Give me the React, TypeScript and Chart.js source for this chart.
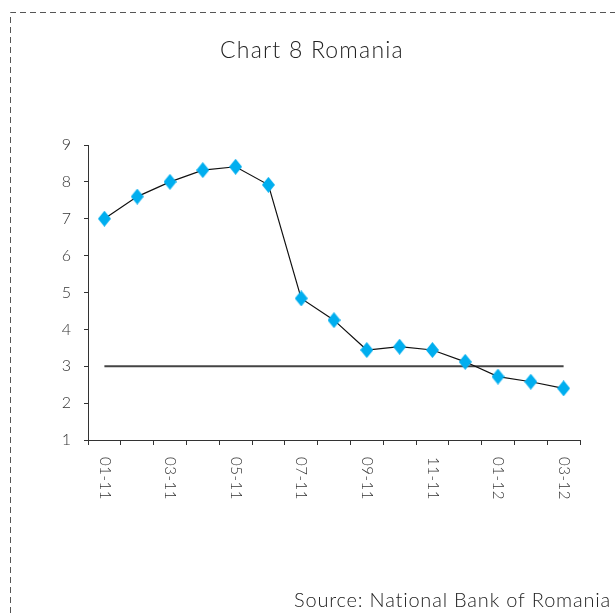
import React, { useEffect, useRef } from "react";
import { Chart, registerables } from "chart.js";

Chart.register(...registerables);

const categories = ["01-11","02-11","03-11","04-11","05-11","06-11","07-11","08-11","09-11","10-11","11-11","12-11","01-12","02-12","03-12"];
const values = [7.0, 7.6, 8.0, 8.32, 8.41, 7.92, 4.84, 4.25, 3.44, 3.53, 3.44, 3.12, 2.72, 2.58, 2.4];
const targetValue = 3;
const titleText = "Chart 8 Romania";
const sourceText = "Source: National Bank of Romania";

const FONT = "Lato, 'DejaVu Sans', sans-serif";

function makeDiamond() {
  const c = document.createElement("canvas");
  c.width = 13;
  c.height = 16;
  const ctx = c.getContext("2d")!;
  ctx.fillStyle = "#00AEEF";
  ctx.beginPath();
  ctx.moveTo(6.5, 0);
  ctx.lineTo(13, 8);
  ctx.lineTo(6.5, 16);
  ctx.lineTo(0, 8);
  ctx.closePath();
  ctx.fill();
  return c;
}

const decorPlugin = {
  id: "decor",
  afterDraw(chart: any) {
    const ctx = chart.ctx;
    ctx.save();
    ctx.strokeStyle = "#555";
    ctx.lineWidth = 1;
    ctx.setLineDash([6, 4]);
    ctx.beginPath();
    ctx.moveTo(10.5, 613);
    ctx.lineTo(10.5, 12.5);
    ctx.lineTo(615, 12.5);
    ctx.stroke();
    ctx.setLineDash([]);
    ctx.fillStyle = "#222";
    ctx.font = `300 23px ${FONT}`;
    (ctx as any).letterSpacing = "1.2px";
    ctx.textAlign = "center";
    ctx.textBaseline = "alphabetic";
    ctx.fillText(titleText, 312, 58);
    ctx.font = `300 20px ${FONT}`;
    (ctx as any).letterSpacing = "0.8px";
    ctx.textAlign = "right";
    ctx.fillText(sourceText, 611, 607);
    const xs = chart.scales.x;
    ctx.font = `300 15px ${FONT}`;
    (ctx as any).letterSpacing = "0.5px";
    ctx.fillStyle = "#333";
    ctx.textAlign = "left";
    ctx.textBaseline = "middle";
    categories.forEach((c, i) => {
      if (i % 2 !== 0) return;
      const x = xs.getPixelForValue(i);
      ctx.save();
      ctx.translate(x, xs.top + 17);
      ctx.rotate(Math.PI / 2);
      ctx.fillText(c, 0, 0);
      ctx.restore();
    });
    ctx.restore();
  },
};

export default function App() {
  const ref = useRef<HTMLCanvasElement>(null);
  useEffect(() => {
    const diamond = makeDiamond();
    const chart = new Chart(ref.current!, {
      type: "line",
      data: {
        labels: categories,
        datasets: [
          {
            data: values,
            borderColor: "#111",
            borderWidth: 1.2,
            pointStyle: diamond as any,
            pointRadius: 7,
            pointBackgroundColor: "#00AEEF",
            pointBorderColor: "#00AEEF",
            tension: 0,
            order: 1,
          },
          {
            data: categories.map(() => targetValue),
            borderColor: "#444",
            borderWidth: 1.8,
            pointRadius: 0,
            order: 2,
          },
        ],
      },
      options: {
        animation: false,
        responsive: false,
        maintainAspectRatio: false,
        layout: { padding: { left: 0, right: 35, top: 145, bottom: 113 } },
        plugins: { legend: { display: false }, tooltip: { enabled: false }, title: { display: false } },
        scales: {
          x: {
            offset: true,
            grid: { offset: true, drawOnChartArea: false, drawTicks: true, tickLength: 5, color: "#333", lineWidth: 1 },
            border: { display: true, dash: [4, 4], color: "#333", width: 1 },
            ticks: { display: false },
            afterFit(s: any) { s.height = 60; },
          },
          y: {
            min: 1,
            max: 9,
            grid: { drawOnChartArea: false, drawTicks: true, tickLength: 4, color: "#333" },
            border: { display: true, dash: [4, 4], color: "#333", width: 1 },
            ticks: { stepSize: 1, color: "#333", font: { family: FONT, size: 16, weight: "300" }, padding: 13 },
            afterFit(s: any) { s.width = 88; },
          },
        },
      },
      plugins: [decorPlugin],
    });
    return () => chart.destroy();
  }, []);
  return (
    <div style={{ position: "fixed", left: 0, top: 0, width: 615, height: 613, background: "#fff" }}>
      <canvas ref={ref} width={615} height={613} style={{ display: "block" }} />
    </div>
  );
}
